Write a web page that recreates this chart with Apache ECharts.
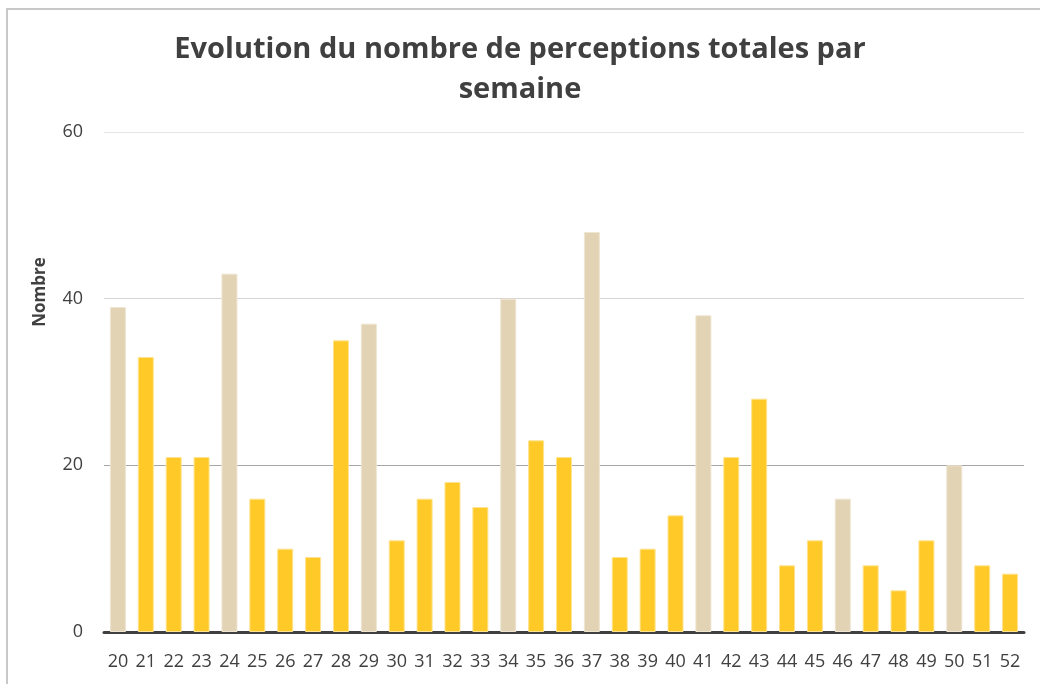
<!DOCTYPE html>
<html>
<head>
<meta charset="utf-8">
<script src="https://cdn.jsdelivr.net/npm/echarts@6/dist/echarts.min.js"></script>
<style>
html,body{margin:0;padding:0;background:#fff;}
#chart{width:1040px;height:684px;}
</style>
</head>
<body>
<div id="chart"></div>
<script>
const weeks = ['20','21','22','23','24','25','26','27','28','29','30','31','32','33','34','35','36','37','38','39','40','41','42','43','44','45','46','47','48','49','50','51','52'];
const counts = [39,33,21,21,43,16,10,9,35,37,11,16,18,15,40,23,21,48,9,10,14,38,21,28,8,11,16,8,5,11,20,8,7];
const highlightWeeks = ['20','24','29','34','37','41','46','50'];
const yTicks = [0,20,40,60];

const YELLOW = '#FFCA28', YELLOW_B = '#FFE38F';
const BEIGE = '#E2D3B4', BEIGE_B = '#EEE5D2';

const chart = echarts.init(document.getElementById('chart'));
chart.setOption({
  backgroundColor: '#fff',
  animation: false,
  title: {
    text: 'Evolution du nombre de perceptions totales par\nsemaine',
    left: 'center',
    top: 25,
    textStyle: { fontFamily: 'Open Sans', fontWeight: 'bold', fontSize: 29, color: '#404040', lineHeight: 40 }
  },
  graphic: [
    { type: 'line', shape: { x1: 6, y1: 9, x2: 1040, y2: 9 }, style: { stroke: '#c8c8c8', lineWidth: 2 } },
    { type: 'line', shape: { x1: 7, y1: 8, x2: 7, y2: 684 }, style: { stroke: '#c8c8c8', lineWidth: 2 } },
    { type: 'text', x: 40, y: 292, rotation: Math.PI / 2,
      style: { text: 'Nombre', fontFamily: 'Open Sans', fontWeight: 'bold', fontSize: 17, fill: '#404040', align: 'center', verticalAlign: 'middle' } }
  ],
  grid: { left: 104, right: 16, top: 132, bottom: 52 },
  xAxis: {
    type: 'category',
    data: weeks,
    axisTick: { show: false },
    axisLine: { lineStyle: { color: '#404040', width: 3 } },
    axisLabel: { interval: 0, color: '#404040', fontSize: 18, fontFamily: 'Open Sans', margin: 21 }
  },
  yAxis: {
    type: 'value',
    min: yTicks[0], max: yTicks[yTicks.length - 1], interval: 20,
    axisLine: { show: false },
    axisTick: { show: false },
    axisLabel: { color: '#404040', fontSize: 18, fontFamily: 'Open Sans', margin: 21 },
    splitLine: { lineStyle: { color: ['#404040', '#a6a6a6', '#d4d4d4', '#e6e6e6'], width: 1 } }
  },
  series: [{
    type: 'bar',
    barWidth: 16,
    data: counts.map((v, i) => {
      const hi = highlightWeeks.includes(weeks[i]);
      return { value: v, itemStyle: { color: hi ? BEIGE : YELLOW, borderColor: hi ? BEIGE_B : YELLOW_B, borderWidth: 1 } };
    })
  }]
});
</script>
</body>
</html>
